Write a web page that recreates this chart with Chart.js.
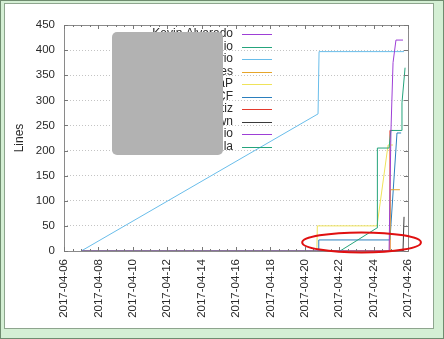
<!DOCTYPE html>
<html><head><meta charset="utf-8">
<script src="https://cdn.jsdelivr.net/npm/chart.js@4.4.0/dist/chart.umd.min.js"></script>
<style>
html,body{margin:0;padding:0;background:#fff;}
#frame{position:absolute;left:0;top:0;width:444px;height:339px;box-sizing:border-box;background:#d4efd4;border:1px solid #6f8c6f;}
#panel{position:absolute;left:4px;top:3px;width:430px;height:326px;box-sizing:border-box;background:#fff;border:1px solid #8ea58e;}
#wrap{position:absolute;left:0;top:0;width:444px;height:339px;}
</style></head><body>
<div id="frame"></div><div id="panel"></div>
<div id="wrap"><canvas id="c" width="444" height="339"></canvas></div>
<script>
const startDate = '2017-04-06T00:00';
const tickLabels = ['2017-04-06','2017-04-08','2017-04-10','2017-04-12','2017-04-14','2017-04-16','2017-04-18','2017-04-20','2017-04-22','2017-04-24','2017-04-26'];
const yTicks = [0,50,100,150,200,250,300,350,400,450];
const seriesNames = ['Kevin Alvarado','gio','rio','es','aP','CF','tiz','wn','gio','la'];
const seriesColors = ['#9d3fd6','#25a47c','#69bdea','#e6a52a','#efe35a','#2b7fbd','#e4392c','#3a3a3a','#9d3fd6','#25a47c'];

// series 1: Kevin Alvarado
const s1Dates = ['2017-04-07T00:00','2017-04-24T21:36','2017-04-25T00:14','2017-04-25T03:07','2017-04-25T07:12','2017-04-25T17:02'];
const s1Lines = [0,0,240,375,420,420];
// series 2
const s2Dates = ['2017-04-07T00:00','2017-04-22T01:12','2017-04-24T04:48','2017-04-24T05:17','2017-04-24T21:36','2017-04-25T00:00','2017-04-25T14:24','2017-04-25T15:36','2017-04-25T19:55'];
const s2Lines = [0,0,46,205,205,240,240,295,365];
// series 3
const s3Dates = ['2017-04-07T00:00','2017-04-20T18:29','2017-04-20T19:55','2017-04-25T18:29'];
const s3Lines = [0,273,397,397];
// series 4
const s4Dates = ['2017-04-07T00:00','2017-04-24T22:48','2017-04-24T23:30','2017-04-25T12:43'];
const s4Lines = [0,0,122,122];
// series 5
const s5Dates = ['2017-04-07T00:00','2017-04-20T16:48','2017-04-20T17:30','2017-04-24T04:48','2017-04-24T20:10','2017-04-25T03:07'];
const s5Lines = [0,0,50,50,211,211];
// series 6
const s6Dates = ['2017-04-07T00:00','2017-04-20T18:29','2017-04-20T19:30','2017-04-24T22:48','2017-04-25T08:38','2017-04-25T14:24'];
const s6Lines = [0,0,22,22,235,235];
// series 7
const s7Dates = ['2017-04-07T00:00','2017-04-24T22:05','2017-04-24T22:48','2017-04-25T03:07'];
const s7Lines = [0,0,240,240];
// series 8
const s8Dates = ['2017-04-07T00:00','2017-04-25T17:02','2017-04-25T18:29'];
const s8Lines = [0,0,68];
// series 9
const s9Dates = ['2017-04-07T00:00','2017-04-25T18:29'];
const s9Lines = [0,0];
// series 10
const s10Dates = ['2017-04-07T00:00','2017-04-25T18:29'];
const s10Lines = [0,0];

// annotation ellipse (in data units: days since start, lines)
const markDay = 17.3, markLines = 17, markHalfDays = 3.45, markHalfLines = 20;

const allDates = [s1Dates,s2Dates,s3Dates,s4Dates,s5Dates,s6Dates,s7Dates,s8Dates,s9Dates,s10Dates];
const allLines = [s1Lines,s2Lines,s3Lines,s4Lines,s5Lines,s6Lines,s7Lines,s8Lines,s9Lines,s10Lines];

const t0 = Date.parse(startDate + ':00Z');
function toDay(s){ return (Date.parse(s + ':00Z') - t0) / 86400000; }

const datasets = seriesNames.map((n,i)=>({
  label: n,
  data: allDates[i].map((d,j)=>({x: toDay(d), y: allLines[i][j]})),
  borderColor: seriesColors[i],
  backgroundColor: seriesColors[i],
  borderWidth: 1,
  pointRadius: 0,
  tension: 0,
  fill: false
}));

const FONT = "'Liberation Sans', Arial, sans-serif";
const TXT = '#2a2a2a';

const gnuplotDeco = {
  id: 'gnuplotDeco',
  afterDraw(chart){
    const ctx = chart.ctx, a = chart.chartArea;
    const xs = chart.scales.x, ys = chart.scales.y;
    ctx.save();
    // border
    ctx.strokeStyle = '#8a8a8a'; ctx.lineWidth = 1;
    ctx.strokeRect(Math.round(a.left)+0.5, Math.round(a.top)+0.5, Math.round(a.right-a.left), Math.round(a.bottom-a.top));
    // ticks
    ctx.strokeStyle = '#777';
    ctx.beginPath();
    yTicks.forEach(v=>{
      const py = Math.round(ys.getPixelForValue(v))+0.5;
      ctx.moveTo(a.left, py); ctx.lineTo(a.left+4, py);
      ctx.moveTo(a.right, py); ctx.lineTo(a.right-4, py);
    });
    for (let d=0; d<=20; d+=0.5){
      const px = Math.round(xs.getPixelForValue(d))+0.5;
      const len = (d % 2 === 0) ? 4 : 2;
      ctx.moveTo(px, a.bottom); ctx.lineTo(px, a.bottom-len);
      ctx.moveTo(px, a.top); ctx.lineTo(px, a.top+len);
    }
    ctx.stroke();
    // legend (gnuplot key: text right, sample line)
    ctx.font = '12px ' + FONT;
    ctx.textAlign = 'right'; ctx.textBaseline = 'middle';
    seriesNames.forEach((n,i)=>{
      const yy = 34 + i*12.5;
      ctx.fillStyle = TXT;
      ctx.fillText(n, 233, yy);
      ctx.strokeStyle = seriesColors[i];
      ctx.beginPath(); ctx.moveTo(242, Math.round(yy)+0.5); ctx.lineTo(272, Math.round(yy)+0.5); ctx.stroke();
    });
    // gray redaction box
    ctx.fillStyle = '#b2b2b2';
    ctx.beginPath();
    if (ctx.roundRect) ctx.roundRect(112, 32, 111, 123, 5); else ctx.rect(112,32,111,123);
    ctx.fill();
    // red ellipse annotation
    const cx = xs.getPixelForValue(markDay), cy = ys.getPixelForValue(markLines);
    const rx = xs.getPixelForValue(markDay+markHalfDays) - cx;
    const ry = cy - ys.getPixelForValue(markLines+markHalfLines);
    ctx.strokeStyle = '#e01010'; ctx.lineWidth = 2;
    ctx.beginPath(); ctx.ellipse(cx, cy, rx, ry, 0, 0, Math.PI*2); ctx.stroke();
    ctx.restore();
  }
};

new Chart(document.getElementById('c'), {
  type: 'line',
  data: { datasets },
  options: {
    responsive: false,
    animation: false,
    devicePixelRatio: 1,
    layout: { padding: { left: 8, top: 25, right: 36, bottom: 0 } },
    plugins: { legend: { display: false }, tooltip: { enabled: false } },
    scales: {
      x: {
        type: 'linear', min: 0, max: 20,
        afterFit(s){ s.height = 88; },
        grid: { display: false, drawTicks: false },
        border: { display: false },
        ticks: {
          stepSize: 2, autoSkip: false, minRotation: 90, maxRotation: 90, padding: 8,
          color: TXT, font: { family: FONT, size: 11.5 },
          callback: (v)=> tickLabels[Math.round(v/2)]
        }
      },
      y: {
        min: 0, max: 450,
        afterFit(s){ s.width = 56; },
        grid: { color: '#c4c4c4', drawTicks: false, lineWidth: 1 },
        border: { display: false, dash: [1,2] },
        ticks: { stepSize: 50, padding: 9, color: TXT, font: { family: FONT, size: 11.5 },
          callback: (v)=> yTicks.includes(v) ? String(v) : '' },
        title: { display: true, text: 'Lines', color: TXT, font: { family: FONT, size: 12 }, padding: { top: 4, bottom: 0 } }
      }
    }
  },
  plugins: [gnuplotDeco]
});
</script>
</body></html>
